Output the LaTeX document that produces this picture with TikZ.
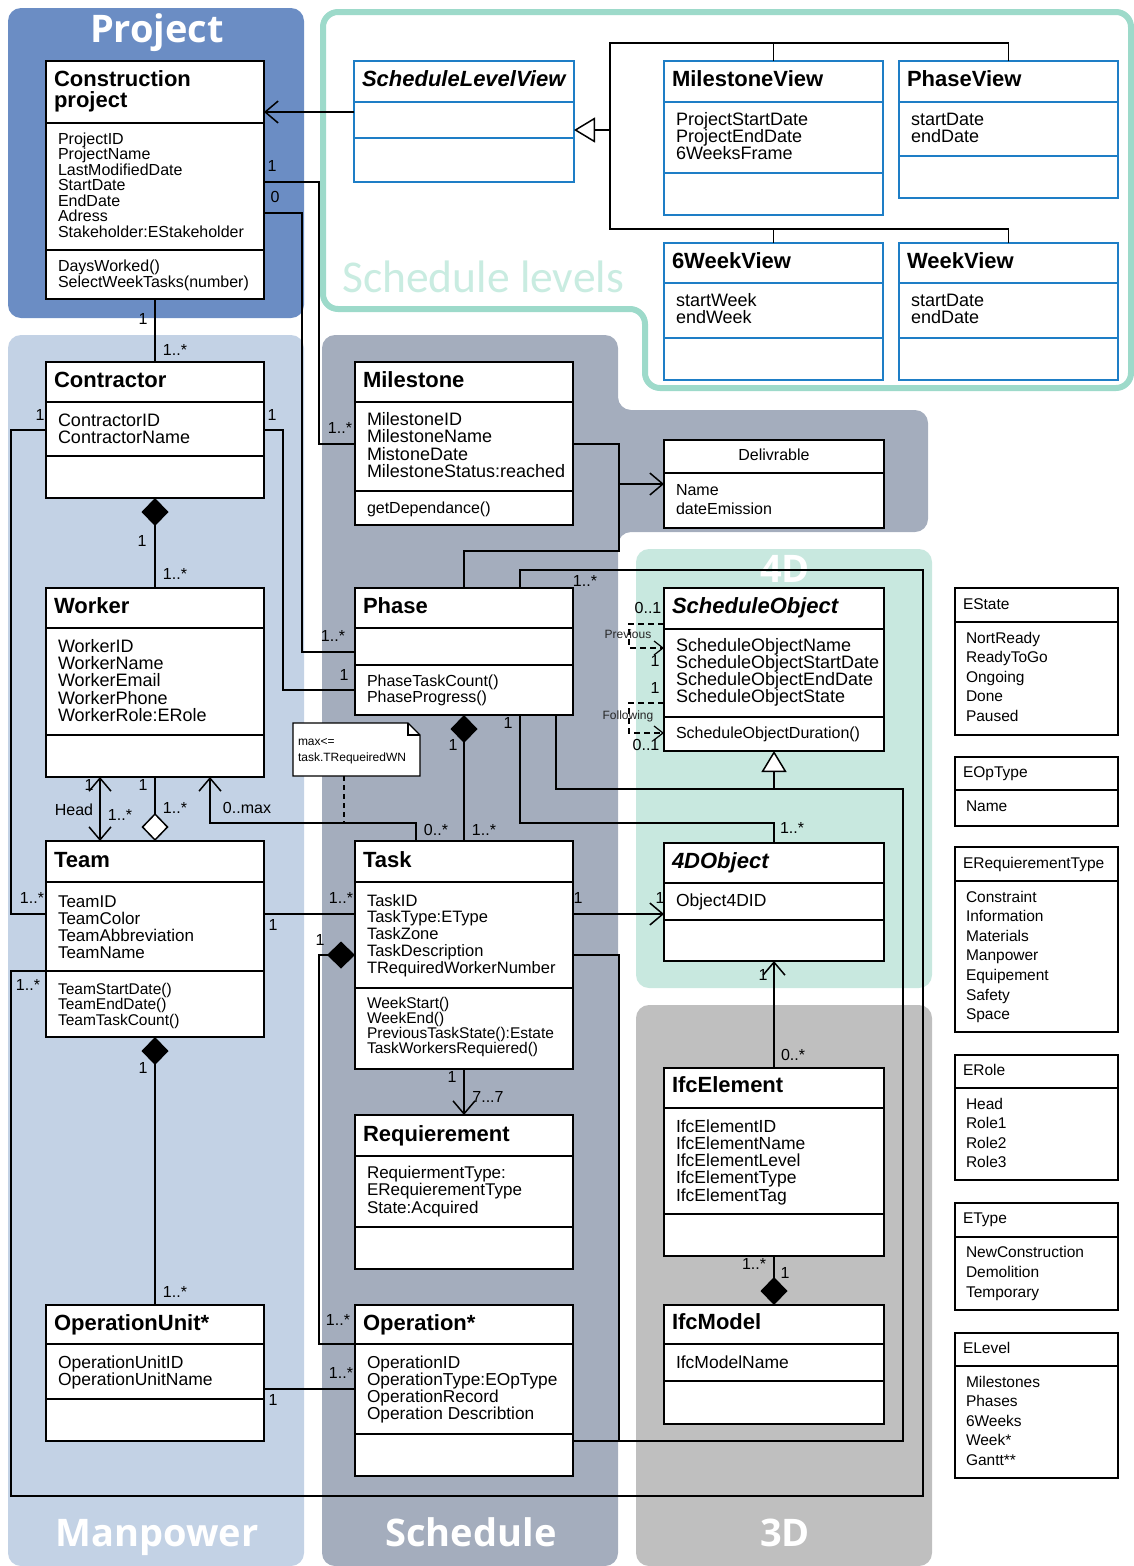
\documentclass[tikz,border=0pt]{standalone}
\usepackage{fontspec}
\setmainfont{Liberation Sans}
\newfontfamily\regionfont{Open Sans}
\newfontfamily\levelfont{Carlito}
\usetikzlibrary{arrows.meta}

\definecolor{cProject}{HTML}{6B8DC4}
\definecolor{cManpower}{HTML}{C3D2E5}
\definecolor{cSchedule}{HTML}{A4ADBD}
\definecolor{cFourD}{HTML}{C8E8DF}
\definecolor{cThreeD}{HTML}{BFBFBF}
\definecolor{cTeal}{HTML}{9DDACA}
\definecolor{cTealText}{HTML}{C9ECE1}
\definecolor{cBlue}{HTML}{1E7EC6}

\newcommand\fsz[1]{\fontsize{#1}{#1}\selectfont}
\newcommand\ubox[6][umlbox]{\node[#1, anchor=north west, minimum width={#5pt-#3pt}, minimum height={#6pt-#4pt}] (#2) at (#3,#4) {};}
\newcommand\usep[3][sepline]{\draw[#1] (#2.west |- 0,#3) -- (#2.east |- 0,#3);}
\newcommand\ulines[6]{\foreach \uli [count=\ulk] in {#6} {\node[txt, font=#5, anchor=base west] (#1-\ulk) at (#2, {#3+(\ulk-1)*#4}) {\uli};}}
\newcommand\utitle[5]{\node[txt, font=#5, anchor=base west] (#1) at (#2,#3) {#4};}

\tikzset{
  umlbox/.style={draw=black, line width=2.8pt, fill=white, inner sep=0pt, outer sep=0pt},
  bluebox/.style={umlbox, draw=cBlue},
  enumbox/.style={draw=black, line width=1.4pt, fill=white, inner sep=0pt, outer sep=0pt},
  sepline/.style={line width=2.8pt, draw=black},
  bluesep/.style={line width=2.8pt, draw=cBlue},
  enumsep/.style={line width=1.4pt, draw=black},
  txt/.style={inner sep=0pt, outer sep=0pt, text=black},
  mult/.style={inner sep=0pt, font=\fsz{16}, text=black},
  smalllbl/.style={inner sep=0pt, font=\fsz{12}, text=black!85},
  conn/.style={line width=1.5pt, draw=black},
  rlabel/.style={font=\regionfont\bfseries\fsz{38}, text=white, inner sep=0pt, anchor=base},
  umlbarb/.tip={Straight Barb[length=13pt,width=22pt]},
  umlsbarb/.tip={Straight Barb[length=9pt,width=14pt]},
  umlcomp/.tip={Diamond[length=28pt,width=27pt]},
  umlagg/.tip={Diamond[open,length=28pt,width=27pt,fill=white]},
  umlgen/.tip={Triangle[open,length=21pt,width=25pt,fill=white]},
}

\begin{document}
\begin{tikzpicture}[x=1pt, y=-1pt]
\useasboundingbox (0,0) rectangle (1133,1566);

% ---------------- regions
\fill[cProject, rounded corners=13pt] (8,8) rectangle (304,318);
\fill[cManpower, rounded corners=13pt] (8,335) rectangle (304,1566);
\fill[cSchedule, rounded corners=13pt] (322,335) -- (618,335) -- (618,410) -- (928,410) -- (928,532) -- (618,532) -- (618,1566) -- (322,1566) -- cycle;
\fill[cFourD, rounded corners=13pt] (636,549) rectangle (932,988);
\fill[cThreeD, rounded corners=13pt] (636,1005) rectangle (932,1566);
\draw[cTeal, line width=6pt, fill=white, rounded corners=15pt] (323,12) -- (1131,12) -- (1131,388) -- (645,388) -- (645,309) -- (323,309) -- cycle;

\node[rlabel] (lblproj) at (157,42) {Project};
\node[rlabel] (lblman) at (157,1546) {Manpower};
\node[rlabel] (lblsch) at (471,1546) {Schedule};
\node[rlabel] (lbl3d) at (785,1546) {3D};
\node[rlabel] (lbl4d) at (785,582) {4D};
\node[font=\levelfont\fsz{45.5}, text=cTealText, anchor=base west, inner sep=0pt] (lbllev) at (342,292) {Schedule levels};

% ---------------- class boxes
\ubox{proj}{46}{61}{264}{299}\usep{proj}{123}\usep{proj}{250}
\ubox[bluebox]{slv}{354}{61}{574}{182}\usep[bluesep]{slv}{102}\usep[bluesep]{slv}{138}
\ubox[bluebox]{mv}{664}{61}{883}{215}\usep[bluesep]{mv}{102}\usep[bluesep]{mv}{173}
\ubox[bluebox]{pv}{899}{61}{1118}{198}\usep[bluesep]{pv}{102}\usep[bluesep]{pv}{156}
\ubox[bluebox]{swv}{664}{243}{883}{380}\usep[bluesep]{swv}{283}\usep[bluesep]{swv}{338}
\ubox[bluebox]{wv}{899}{243}{1118}{380}\usep[bluesep]{wv}{283}\usep[bluesep]{wv}{338}
\ubox{contr}{46}{362}{264}{498}\usep{contr}{402}\usep{contr}{456}
\ubox{worker}{46}{588}{264}{777}\usep{worker}{628}\usep{worker}{735}
\ubox{team}{46}{841}{264}{1037}\usep{team}{882}\usep{team}{971}
\ubox{opu}{46}{1305}{264}{1441}\usep{opu}{1344}\usep{opu}{1399}
\ubox{ms}{355}{362}{573}{525}\usep{ms}{402}\usep{ms}{491}
\ubox{deliv}{664}{440}{884}{528}\usep{deliv}{473}
\ubox{phase}{355}{588}{573}{715}\usep{phase}{628}\usep{phase}{665}
\ubox{task}{355}{841}{573}{1069}\usep{task}{882}\usep{task}{988}
\ubox{req}{355}{1115}{573}{1269}\usep{req}{1156}\usep{req}{1227}
\ubox{oper}{355}{1305}{573}{1476}\usep{oper}{1344}\usep{oper}{1434}
\ubox{so}{664}{588}{884}{751}\usep{so}{629}\usep{so}{717}
\ubox{fdo}{664}{843}{884}{961}\usep{fdo}{883}\usep{fdo}{920}
\ubox{ifce}{664}{1068}{884}{1256}\usep{ifce}{1108}\usep{ifce}{1214}
\ubox{ifcm}{664}{1305}{884}{1424}\usep{ifcm}{1344}\usep{ifcm}{1381}
% enumerations
\ubox[enumbox]{est}{955}{588}{1118}{735}\usep[enumsep]{est}{622}
\ubox[enumbox]{eop}{955}{757}{1118}{826}\usep[enumsep]{eop}{790}
\ubox[enumbox]{ert}{955}{847}{1118}{1032}\usep[enumsep]{ert}{881}
\ubox[enumbox]{erole}{955}{1055}{1118}{1180}\usep[enumsep]{erole}{1088}
\ubox[enumbox]{etype}{955}{1203}{1118}{1310}\usep[enumsep]{etype}{1237}
\ubox[enumbox]{elev}{955}{1333}{1118}{1478}\usep[enumsep]{elev}{1366}

% note
\node[inner sep=0pt, outer sep=0pt, minimum width=127pt, minimum height=53pt, anchor=north west] (note) at (293,723) {};
\draw[line width=1.2pt, fill=white] (note.north west) -- ([xshift=-12pt]note.north east) -- ([yshift=-12pt]note.north east) -- (note.south east) -- (note.south west) -- cycle;
\draw[line width=1.2pt] ([xshift=-12pt]note.north east) |- ([yshift=-12pt]note.north east);
\node[txt, font=\fsz{12}, anchor=base west] (note-1) at (298,745) {max<=};
\node[txt, font=\fsz{12}, anchor=base west] (note-2) at (298,761) {task.TRequeiredWN};

% ---------------- texts
\utitle{proj-t1}{54}{86}{Construction}{\fsz{22}\bfseries}
\utitle{proj-t2}{54}{107}{project}{\fsz{22}\bfseries}
\ulines{proj-a}{58}{144}{15.5}{\fsz{16}}{ProjectID,ProjectName,LastModifiedDate,StartDate,EndDate,Adress,Stakeholder:EStakeholder}
\ulines{proj-m}{58}{271}{16}{\fsz{16}}{DaysWorked(),SelectWeekTasks(number)}

\utitle{slv-t}{362}{86}{ScheduleLevelView}{\fsz{22}\bfseries\itshape}
\utitle{mv-t}{672}{86}{MilestoneView}{\fsz{22}\bfseries}
\ulines{mv-a}{676}{125}{17}{\fsz{18}}{ProjectStartDate,ProjectEndDate,6WeeksFrame}
\utitle{pv-t}{907}{86}{PhaseView}{\fsz{22}\bfseries}
\ulines{pv-a}{911}{125}{17}{\fsz{18}}{startDate,endDate}
\utitle{swv-t}{672}{268}{6WeekView}{\fsz{22}\bfseries}
\ulines{swv-a}{676}{306}{17}{\fsz{18}}{startWeek,endWeek}
\utitle{wv-t}{907}{268}{WeekView}{\fsz{22}\bfseries}
\ulines{wv-a}{911}{306}{17}{\fsz{18}}{startDate,endDate}

\utitle{contr-t}{54}{387}{Contractor}{\fsz{22}\bfseries}
\ulines{contr-a}{58}{426}{17}{\fsz{18}}{ContractorID,ContractorName}
\utitle{worker-t}{54}{613}{Worker}{\fsz{22}\bfseries}
\ulines{worker-a}{58}{652}{17.4}{\fsz{18}}{WorkerID,WorkerName,WorkerEmail,WorkerPhone,WorkerRole:ERole}
\utitle{team-t}{54}{867}{Team}{\fsz{22}\bfseries}
\ulines{team-a}{58}{907}{17.3}{\fsz{17}}{TeamID,TeamColor,TeamAbbreviation,TeamName}
\ulines{team-m}{58}{994}{15.5}{\fsz{15.5}}{TeamStartDate(),TeamEndDate(),TeamTaskCount()}
\utitle{opu-t}{54}{1330}{OperationUnit*}{\fsz{22}\bfseries}
\ulines{opu-a}{58}{1368}{17}{\fsz{17.5}}{OperationUnitID,OperationUnitName}

\utitle{ms-t}{363}{387}{Milestone}{\fsz{22}\bfseries}
\ulines{ms-a}{367}{425}{17.6}{\fsz{18}}{MilestoneID,MilestoneName,MistoneDate,MilestoneStatus:reached}
\ulines{ms-m}{367}{513}{16}{\fsz{16}}{getDependance()}
\node[txt, font=\fsz{16}, anchor=base] (deliv-t) at (774,460) {Delivrable};
\ulines{deliv-a}{676}{495}{19.5}{\fsz{16}}{Name,dateEmission}
\utitle{phase-t}{363}{613}{Phase}{\fsz{22}\bfseries}
\ulines{phase-m}{367}{686}{16}{\fsz{16}}{PhaseTaskCount(),PhaseProgress()}
\utitle{task-t}{363}{867}{Task}{\fsz{22}\bfseries}
\ulines{task-a}{367}{906}{16.8}{\fsz{16.5}}{TaskID,TaskType:EType,TaskZone,TaskDescription,TRequiredWorkerNumber}
\ulines{task-m}{367}{1008}{15.3}{\fsz{15.5}}{WeekStart(),WeekEnd(),PreviousTaskState():Estate,TaskWorkersRequiered()}
\utitle{req-t}{363}{1141}{Requierement}{\fsz{22}\bfseries}
\ulines{req-a}{367}{1178}{17.5}{\fsz{17}}{RequiermentType:,ERequierementType,State:Acquired}
\utitle{oper-t}{363}{1330}{Operation*}{\fsz{22}\bfseries}
\ulines{oper-a}{367}{1368}{17.3}{\fsz{17.3}}{OperationID,OperationType:EOpType,OperationRecord,Operation Describtion}

\utitle{so-t}{672}{613}{ScheduleObject}{\fsz{22}\bfseries\itshape}
\ulines{so-a}{676}{651}{17}{\fsz{18}}{ScheduleObjectName,ScheduleObjectStartDate,ScheduleObjectEndDate,ScheduleObjectState}
\ulines{so-m}{676}{738}{16}{\fsz{16}}{ScheduleObjectDuration()}
\utitle{fdo-t}{672}{868}{4DObject}{\fsz{22}\bfseries\itshape}
\ulines{fdo-a}{676}{906}{17}{\fsz{17.5}}{Object4DID}
\utitle{ifce-t}{672}{1092}{IfcElement}{\fsz{22}\bfseries}
\ulines{ifce-a}{676}{1132}{17.3}{\fsz{17.5}}{IfcElementID,IfcElementName,IfcElementLevel,IfcElementType,IfcElementTag}
\utitle{ifcm-t}{672}{1329}{IfcModel}{\fsz{22}\bfseries}
\ulines{ifcm-a}{676}{1368}{17}{\fsz{17.5}}{IfcModelName}

\utitle{est-t}{963}{609}{EState}{\fsz{15.5}}
\ulines{est-a}{966}{643}{19.6}{\fsz{15.5}}{NortReady,ReadyToGo,Ongoing,Done,Paused}
\utitle{eop-t}{963}{777}{EOpType}{\fsz{15.5}}
\ulines{eop-a}{966}{811}{19.6}{\fsz{15.5}}{Name}
\utitle{ert-t}{963}{868}{ERequierementType}{\fsz{15.5}}
\ulines{ert-a}{966}{902}{19.6}{\fsz{15.5}}{Constraint,Information,Materials,Manpower,Equipement,Safety,Space}
\utitle{erole-t}{963}{1075}{ERole}{\fsz{15.5}}
\ulines{erole-a}{966}{1109}{19.5}{\fsz{15.5}}{Head,Role1,Role2,Role3}
\utitle{etype-t}{963}{1223}{EType}{\fsz{15.5}}
\ulines{etype-a}{966}{1257}{20}{\fsz{15.5}}{NewConstruction,Demolition,Temporary}
\utitle{elev-t}{963}{1353}{ELevel}{\fsz{15.5}}
\ulines{elev-a}{966}{1387}{19.5}{\fsz{15.5}}{Milestones,Phases,6Weeks,Week*,Gantt**}

% ---------------- connectors
\coordinate (gtop) at (610,43);
\coordinate (gbot) at (610,229);
\coordinate (gmid) at (610,130);
\draw[conn, -{umlbarb}] (slv.west |- 0,112) -- (proj.east |- 0,112);
\draw[conn] (mv.north) -- (mv.north |- gtop);
\draw[conn] (pv.north) |- (gtop) -- (gbot) -| (wv.north);
\draw[conn] (swv.north) -- (swv.north |- gbot);
\draw[conn, -{umlgen}] (gmid) -- (slv.east |- gmid);

\draw[conn] (proj.east |- 0,182) -| (319,444) -- (ms.west |- 0,444);
\draw[conn] (proj.east |- 0,213) -| (302,652) -- (phase.west |- 0,652);
\draw[conn] (proj.south) -- (contr.north);
\draw[conn] (contr.west |- 0,430) -| (11,914) -- (team.west |- 0,914);
\draw[conn] (contr.east |- 0,430) -| (283,690) -- (phase.west |- 0,690);
\draw[conn, {umlcomp}-] (contr.south) -- (worker.north);
\draw[conn, {umlbarb}-{umlbarb}] (worker.south -| 100,0) -- (team.north -| 100,0);
\draw[conn, -{umlagg}] (worker.south) -- (team.north);
\draw[conn, {umlbarb}-] (worker.south -| 210,0) |- (416,823) -- (task.north -| 416,0);
\draw[conn, dashed, line width=1.2pt, dash pattern=on 5pt off 4pt] (note.south -| 344,0) -- (344,823);
\draw[conn] (team.east |- 0,914) -- (task.west |- 0,914);
\draw[conn] (team.west |- 0,971) -| (11,1496) -| (923,570) -| (phase.north -| 520,0);
\draw[conn, {umlcomp}-] (team.south) -- (opu.north);
\draw[conn] (opu.east |- 0,1389) -- (oper.west |- 0,1389);

\coordinate (msj) at (619,484);
\draw[conn] (ms.east |- 0,444) -| (619,551) -| (phase.north);
\draw[conn, -{umlbarb}] (msj) -- (deliv.west |- msj);
\draw[conn, {umlcomp}-] (phase.south) -- (task.north);
\draw[conn] (phase.south -| 520,0) |- (fdo.north |- 0,823) -- (fdo.north);
\draw[conn, -{umlgen}] (so.south |- 0,789) -- (so.south);
\draw[conn] (phase.south -| 556,0) |- (903,789) |- (oper.east |- 0,1441);
\draw[conn] (task.east |- 0,955) -| (619,1441);
\draw[conn, -{umlbarb}] (task.east |- 0,914) -- (fdo.west |- 0,914);
\draw[conn, -{umlbarb}] (task.south) -- (req.north);
\draw[conn, {umlcomp}-] (task.west |- 0,955) -| (319,1344) -- (oper.west |- 0,1344);
\draw[conn, -{umlbarb}] (ifce.north) -- (fdo.south);
\draw[conn, -{umlcomp}] (ifce.south) -- (ifcm.north);

\draw[conn, line width=1.2pt, dash pattern=on 6pt off 4pt, -{umlsbarb}] (so.west |- 0,624) -| (629,648) -- (so.west |- 0,648);
\draw[conn, line width=1.2pt, dash pattern=on 6pt off 4pt, -{umlsbarb}] (so.west |- 0,703) -| (629,733) -- (so.west |- 0,733);

% ---------------- multiplicities
\node[mult] (m1) at (272,166) {1};
\node[mult] (m2) at (275,197) {0};
\node[mult] (m3) at (143,319) {1};
\node[mult] (m4) at (175,350) {1..*};
\node[mult] (m5) at (340,428) {1..*};
\node[mult] (m6) at (40,415) {1};
\node[mult] (m7) at (272,415) {1};
\node[mult] (m8) at (142,541) {1};
\node[mult] (m9) at (175,574) {1..*};
\node[mult] (m10) at (333,636) {1..*};
\node[mult] (m11) at (344,675) {1};
\node[mult] (m12) at (585,581) {1..*};
\node[mult] (m13) at (508,723) {1};
\node[mult] (m14) at (453,745) {1};
\node[mult] (m15) at (89,785) {1};
\node[mult] (m16) at (74,810) {Head};
\node[mult] (m17) at (120,815) {1..*};
\node[mult] (m18) at (143,785) {1};
\node[mult] (m19) at (175,808) {1..*};
\node[mult] (m20) at (247,808) {0..max};
\node[mult] (m21) at (436,830) {0..*};
\node[mult] (m22) at (484,830) {1..*};
\node[mult] (m23) at (792,828) {1..*};
\node[mult] (m24) at (32,898) {1..*};
\node[mult] (m25) at (273,925) {1};
\node[mult] (m26) at (341,898) {1..*};
\node[mult] (m27) at (320,940) {1};
\node[mult] (m28) at (28,985) {1..*};
\node[mult] (m29) at (578,898) {1};
\node[mult] (m30) at (660,898) {1};
\node[mult] (m31) at (763,975) {1};
\node[mult] (m32) at (793,1055) {0..*};
\node[mult] (m33) at (143,1068) {1};
\node[mult] (m34) at (452,1077) {1};
\node[mult] (m35) at (488,1097) {7...7};
\node[mult] (m36) at (754,1264) {1..*};
\node[mult] (m37) at (785,1273) {1};
\node[mult] (m38) at (175,1292) {1..*};
\node[mult] (m39) at (338,1320) {1..*};
\node[mult] (m40) at (341,1373) {1..*};
\node[mult] (m41) at (273,1400) {1};
\node[mult] (m42) at (648,608) {0..1};
\node[mult] (m43) at (655,661) {1};
\node[mult] (m44) at (655,688) {1};
\node[mult] (m45) at (646,745) {0..1};
\node[smalllbl] (lprev) at (628,634) {Previous};
\node[smalllbl] (lfoll) at (628,716) {Following};
\end{tikzpicture}
\end{document}
